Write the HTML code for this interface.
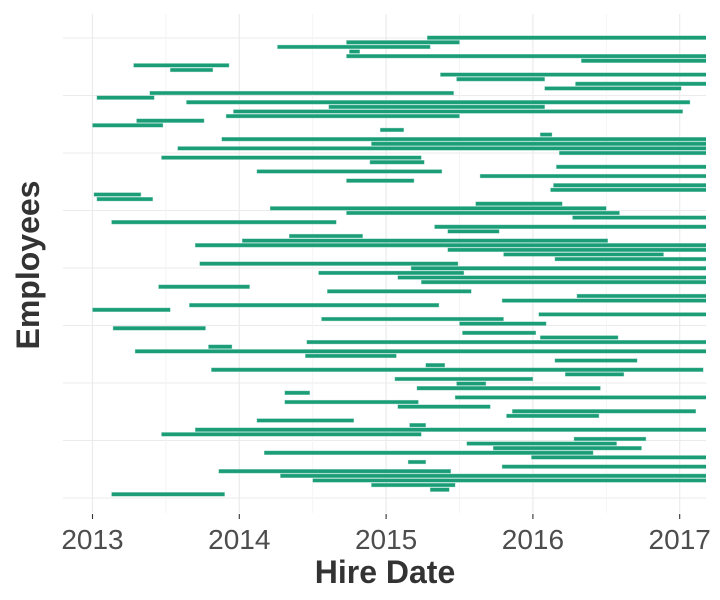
<!DOCTYPE html>
<html><head><meta charset="utf-8"><style>
html,body{margin:0;padding:0;background:#fff;}
svg{display:block;font-family:"Liberation Sans",sans-serif;}
</style></head><body>
<svg id="chart" width="720" height="600" viewBox="0 0 720 600">
<defs><clipPath id="panel"><rect x="63" y="14" width="643" height="499"/></clipPath></defs>
<g id="grid"></g>
<g id="bars" clip-path="url(#panel)"></g>
<g id="xaxis"></g>
<text x="385" y="583" text-anchor="middle" font-size="32" font-weight="bold" fill="#333">Hire Date</text>
<text transform="translate(39,265) rotate(-90)" text-anchor="middle" font-size="32" font-weight="bold" fill="#333">Employees</text>
</svg>
<script>
const startYears=[2015.28,2014.73,2014.26,2014.75,2014.73,2016.33,2013.28,2013.53,2015.37,2015.48,2016.29,2016.08,2013.39,2013.03,2013.64,2014.61,2013.96,2013.91,2013.30,2013.00,2014.96,2016.05,2013.88,2014.90,2013.58,
2016.18,2013.47,2014.89,2016.16,2014.12,2015.64,2014.73,2016.14,2016.12,2013.01,2013.03,2015.61,2014.21,2014.73,2016.27,2013.13,2015.33,2015.42,2014.34,2014.02,2013.70,2015.42,2015.80,2016.15,2013.73,
2015.17,2014.54,2015.08,2015.24,2013.45,2014.60,2016.30,2015.79,2013.66,2013.00,2016.04,2014.56,2015.50,2013.14,2015.52,2016.05,2014.46,2013.79,2013.29,2014.45,2016.15,2015.27,2013.81,2016.22,2015.06,
2015.48,2015.21,2014.31,2015.47,2014.31,2015.08,2015.86,2015.82,2014.12,2015.16,2013.70,2013.47,2016.28,2015.55,2015.73,2014.17,2015.99,2015.15,2015.79,2013.86,2014.28,2014.50,2014.90,2015.30,2013.13];
const endYears=[2017.4,2015.50,2015.30,2014.82,2017.4,2017.4,2013.93,2013.82,2017.4,2016.08,2017.4,2017.01,2015.46,2013.42,2017.07,2016.08,2017.02,2015.50,2013.76,2013.48,2015.12,2016.13,2017.4,2017.4,2017.4,
2017.4,2015.24,2015.26,2017.4,2015.38,2017.4,2015.19,2017.4,2017.4,2013.33,2013.41,2016.20,2016.50,2016.59,2017.4,2014.66,2017.4,2015.77,2014.84,2016.51,2017.4,2017.4,2016.89,2017.4,2015.49,
2017.4,2015.53,2017.4,2017.4,2014.07,2015.58,2017.4,2017.4,2015.36,2013.53,2017.4,2015.80,2016.09,2013.77,2016.02,2016.58,2017.4,2013.95,2017.4,2015.07,2016.71,2015.40,2017.16,2016.62,2016.00,
2015.68,2016.46,2014.48,2017.4,2015.22,2015.71,2017.11,2016.45,2014.78,2015.27,2017.4,2015.24,2016.77,2016.57,2016.74,2016.41,2017.4,2015.27,2017.4,2015.44,2017.4,2017.4,2015.47,2015.43,2013.90];
const tickYears=[2013,2014,2015,2016,2017];
const tickLabels=["2013","2014","2015","2016","2017"];

const NS="http://www.w3.org/2000/svg";
const xScale=y=>92.5+(y-2013)*146.8;
const yScale=i=>37.7+i*4.612;
function mk(tag,attrs,parent){const e=document.createElementNS(NS,tag);for(const k in attrs)e.setAttribute(k,attrs[k]);parent.appendChild(e);return e;}
const grid=document.getElementById('grid'),bars=document.getElementById('bars'),xaxis=document.getElementById('xaxis');
for(let k=0;k<9;k++){const y=38+k*57.5;
 const l=mk('line',{x1:63,x2:706,y1:y,y2:y,stroke:'#ebebeb','stroke-width':1.1},grid);
 
 }
for(let v=2013;v<=2017.01;v+=0.5){const x=xScale(v);
 const l=mk('line',{x1:x,x2:x,y1:14,y2:513,stroke:v%1===0?'#ebebeb':'#f3f3f3','stroke-width':v%1===0?1.2:0.9},grid);
 
 }
startYears.forEach((s,i)=>{const x1=xScale(s),x2=xScale(endYears[i]);
 const r=mk('rect',{x:x1,y:yScale(i)-1.9,width:Math.max(1,x2-x1),height:3.8,fill:'#1b9e77',stroke:'#8fd1bd','stroke-width':0.4},bars);
 
 });
tickYears.forEach((t,i)=>{const x=xScale(t);
 const tk=mk('line',{x1:x,x2:x,y1:514,y2:519,stroke:'#333','stroke-width':1.1},xaxis);
 
 
 const tx=mk('text',{x:x,y:549,'text-anchor':'middle','font-size':28,fill:'#4d4d4d'},xaxis);
 tx.textContent=tickLabels[i];
 
 });
</script>
</body></html>
